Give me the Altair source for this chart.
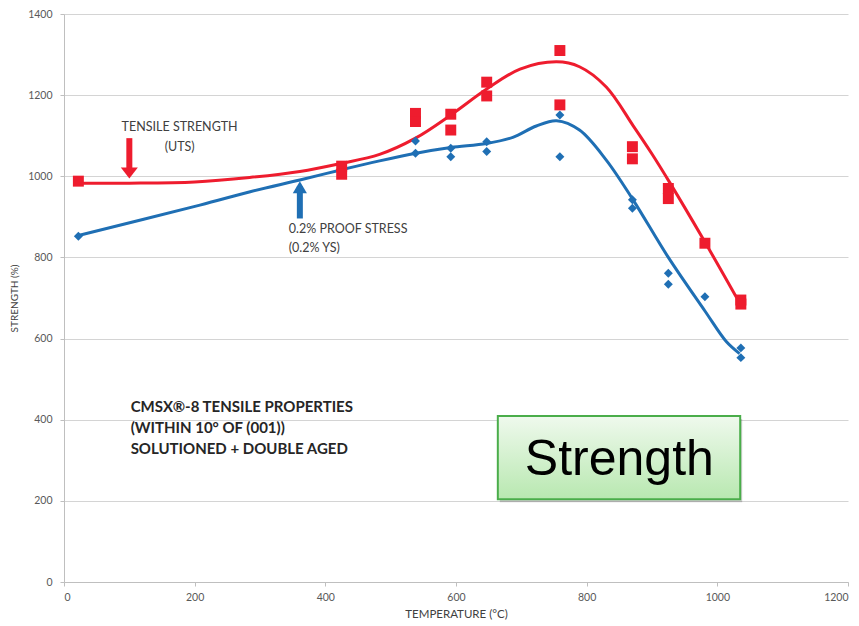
import altair as alt
import pandas as pd

# ---- data ----
uts_temp = [22, 425, 425, 538, 538, 592, 592, 647, 647, 759, 759, 870, 870, 925, 925, 981, 1036, 1036]
uts_val = [988, 1025, 1005, 1155, 1135, 1153, 1114, 1232, 1198, 1310, 1176, 1073, 1043, 970, 945, 835, 695, 685]

ys_temp = [22, 425, 538, 538, 592, 592, 647, 647, 759, 759, 870, 870, 925, 925, 981, 1036, 1036]
ys_val = [852, 1005, 1087, 1057, 1069, 1048, 1085, 1061, 1151, 1048, 942, 921, 761, 734, 703, 577, 553]

uts_curve_t = [22, 100, 200, 284, 361, 422, 483, 538, 592, 647, 698, 754, 789, 830, 871, 900, 927, 981, 1034]
uts_curve_v = [983, 983, 986, 997, 1012, 1031, 1054, 1094, 1151, 1215, 1264, 1282, 1270, 1220, 1125, 1055, 985, 838, 688]

ys_curve_t = [19, 208, 285, 361, 422, 483, 539, 592, 647, 687, 723, 754, 789, 830, 871, 925, 981, 1014, 1034]
ys_curve_v = [853, 929, 962, 991, 1015, 1038, 1057, 1071, 1081, 1096, 1124, 1137, 1114, 1040, 942, 800, 668, 592, 563]

x_ticks = [0, 200, 400, 600, 800, 1000, 1200]
y_ticks = [0, 200, 400, 600, 800, 1000, 1200, 1400]

title_lines = ["CMSX\u00ae-8 TENSILE PROPERTIES", "(WITHIN 10\u00b0 OF (001))", "SOLUTIONED + DOUBLE AGED"]
title_y = [431, 380, 328]
title_x = 102

uts_label = ["TENSILE STRENGTH", "(UTS)"]
uts_label_x = 177
uts_label_y = [1121, 1072]
ys_label = ["0.2% PROOF STRESS", "(0.2% YS)"]
ys_label_x = 344
ys_label_y = [870, 823]

# arrows (data coordinates)
red_arrow = {"x": 100, "y_tail": 1094, "y_shaft_end": 1012, "y_head": 1008}
blue_arrow = {"x": 361, "y_tail": 896, "y_shaft_end": 975, "y_head": 973}

# "Strength" box (data coordinates)
box = {"x": 664, "x2": 1035, "y": 409, "y2": 204}
box_text = "Strength"
box_text_pos = {"x": 850, "y": 264}

RED = "#ee1c2e"
BLUE = "#1f6fb4"
FONT = "Lato"

xs = alt.Scale(domain=[0, 1200], nice=False, zero=False)
ys = alt.Scale(domain=[0, 1400], nice=False, zero=False)

X = alt.X("x:Q", scale=xs, axis=alt.Axis(values=x_ticks, format="d", title="TEMPERATURE (\u00b0C)", grid=False,
                                          titleFontSize=11.5, titleFontWeight="normal", titleColor="#404040",
                                          titlePadding=6, titleFont=FONT))
Y = alt.Y("y:Q", scale=ys, axis=alt.Axis(values=y_ticks, format="d", title="STRENGTH (%)", grid=True,
                                          titleFontSize=10, titleFontWeight="normal", titleColor="#404040",
                                          titleFont=FONT, titleX=-50, titleY=284, titleAngle=270,
                                          titleAlign="center", titleBaseline="middle"))

uts_pts = pd.DataFrame({"x": uts_temp, "y": uts_val})
ys_pts = pd.DataFrame({"x": ys_temp, "y": ys_val})
uts_c = pd.DataFrame({"x": uts_curve_t, "y": uts_curve_v})
ys_c = pd.DataFrame({"x": ys_curve_t, "y": ys_curve_v})

base_axes = alt.Chart(pd.DataFrame({"x": [0], "y": [0]})).mark_point(opacity=0).encode(x=X, y=Y)

blue_line = alt.Chart(ys_c).mark_line(color=BLUE, strokeWidth=3, interpolate="catmull-rom").encode(
    x=alt.X("x:Q", scale=xs), y=alt.Y("y:Q", scale=ys))
red_line = alt.Chart(uts_c).mark_line(color=RED, strokeWidth=3, interpolate="catmull-rom").encode(
    x=alt.X("x:Q", scale=xs), y=alt.Y("y:Q", scale=ys))
blue_pts = alt.Chart(ys_pts).mark_point(shape="diamond", filled=True, color=BLUE, size=80, opacity=1).encode(
    x=alt.X("x:Q", scale=xs), y=alt.Y("y:Q", scale=ys))
red_pts = alt.Chart(uts_pts).mark_point(shape="square", filled=True, color=RED, size=120, opacity=1).encode(
    x=alt.X("x:Q", scale=xs), y=alt.Y("y:Q", scale=ys))

def arrow(a, color, shape, head_size):
    shaft = alt.Chart(pd.DataFrame({"x": [a["x"]], "y": [a["y_tail"]], "y2": [a["y_shaft_end"]]})).mark_rule(
        color=color, strokeWidth=6).encode(x=alt.X("x:Q", scale=xs), y=alt.Y("y:Q", scale=ys), y2="y2:Q")
    head = alt.Chart(pd.DataFrame({"x": [a["x"]], "y": [a["y_head"]]})).mark_point(
        shape=shape, filled=True, color=color, size=head_size, opacity=1).encode(
        x=alt.X("x:Q", scale=xs), y=alt.Y("y:Q", scale=ys))
    return shaft + head

red_arr = arrow(red_arrow, RED, "M-1,-0.65L1,-0.65L0,0.65Z", 290)
blue_arr = arrow(blue_arrow, BLUE, "M-1,0.85L1,0.85L0,-0.85Z", 200)

uts_txt = alt.Chart(pd.DataFrame({"x": [uts_label_x] * 2, "y": uts_label_y, "t": uts_label})).mark_text(
    font=FONT, fontSize=12.5, color="#404040", align="center", baseline="middle").encode(
    x=alt.X("x:Q", scale=xs), y=alt.Y("y:Q", scale=ys), text="t:N")
ys_txt = alt.Chart(pd.DataFrame({"x": [ys_label_x] * 2, "y": ys_label_y, "t": ys_label})).mark_text(
    font=FONT, fontSize=12.5, color="#404040", align="left", baseline="middle").encode(
    x=alt.X("x:Q", scale=xs), y=alt.Y("y:Q", scale=ys), text="t:N")
title_txt = alt.Chart(pd.DataFrame({"x": [title_x] * 3, "y": title_y, "t": title_lines})).mark_text(
    font=FONT, fontSize=15, fontWeight="bold", color="#262626", align="left", baseline="middle").encode(
    x=alt.X("x:Q", scale=xs), y=alt.Y("y:Q", scale=ys), text="t:N")

box_df = pd.DataFrame({"x": [box["x"]], "x2": [box["x2"]], "y": [box["y"]], "y2": [box["y2"]]})
shadow = alt.Chart(box_df).mark_rect(color="#000000", opacity=0.18, xOffset=2, yOffset=3, x2Offset=2, y2Offset=3).encode(
    x=alt.X("x:Q", scale=xs), x2="x2:Q", y=alt.Y("y:Q", scale=ys), y2="y2:Q")
grad = alt.Gradient(gradient="linear",
                    stops=[alt.GradientStop(color="#eff9ed", offset=0),
                           alt.GradientStop(color="#b8e8b0", offset=1)],
                    x1=0, x2=0, y1=0, y2=1)
box_rect = alt.Chart(box_df).mark_rect(fill=grad, stroke="#4aad4a", strokeWidth=2).encode(
    x=alt.X("x:Q", scale=xs), x2="x2:Q", y=alt.Y("y:Q", scale=ys), y2="y2:Q")
box_txt = alt.Chart(pd.DataFrame({"x": [box_text_pos["x"]], "y": [box_text_pos["y"]], "t": [box_text]})).mark_text(
    font="Liberation Sans", fontSize=50, color="#000000", align="center", baseline="alphabetic").encode(
    x=alt.X("x:Q", scale=xs), y=alt.Y("y:Q", scale=ys), text="t:N")

chart = alt.layer(
    base_axes, blue_line, red_line, blue_pts, red_pts, red_arr, blue_arr,
    uts_txt, ys_txt, title_txt, shadow, box_rect, box_txt
).properties(
    width=784, height=568,
    autosize=alt.AutoSizeParams(type="none"),
    padding={"left": 56, "top": 6, "right": 3, "bottom": 44},
    background="white",
).configure_view(stroke=None).configure_axis(
    labelFont=FONT, labelFontSize=10.5, labelColor="#595959",
    domainColor="#bfbfbf", tickColor="#bfbfbf", tickSize=4,
    gridColor="#d4d4d4", gridWidth=1, labelPadding=6,
).configure_axisY(domain=True, labelPadding=8)

chart.save("out.html", embed_options={"renderer": "svg", "actions": False})
